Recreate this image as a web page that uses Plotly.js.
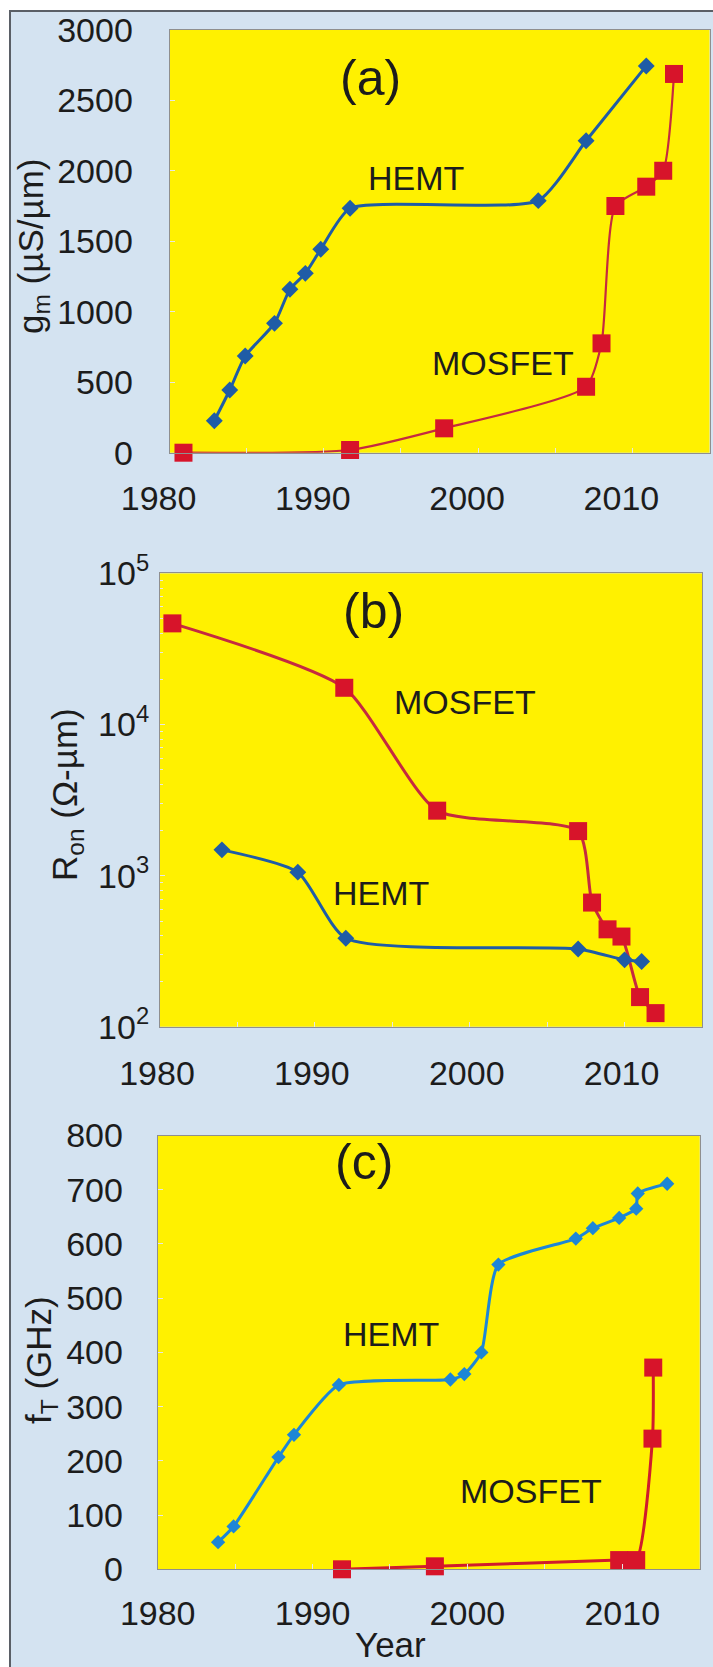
<!DOCTYPE html>
<html>
<head>
<meta charset="utf-8">
<script src="https://cdn.plot.ly/plotly-3.0.1.min.js"></script>
<style>
  html, body { margin: 0; padding: 0; background: #ffffff; }
  #frame { position: absolute; left: 9px; top: 10px; width: 720px; height: 1680px;
           background: #d4e3f1; border-left: 2px solid #5a5f66; border-top: 2px solid #5a5f66; }
  #chart { position: absolute; left: 0; top: 0; width: 713px; height: 1667px; }
</style>
</head>
<body>
<div id="frame"></div>
<div id="chart"></div>
<script>
// ---- Panel (a): transconductance gm (µS/µm) ----
const hemtA_year = [1982.9, 1983.9, 1984.9, 1986.8, 1987.8, 1988.8, 1989.8, 1991.7, 2003.9, 2007.0, 2010.9];
const hemtA_gm   = [227, 445, 686, 918, 1160, 1273, 1444, 1735, 1789, 2214, 2745];
const mosA_year  = [1980.9, 1991.7, 1997.8, 2007.0, 2008.0, 2008.9, 2010.9, 2012.0, 2012.7];
const mosA_gm    = [0, 19, 173, 468, 776, 1751, 1888, 2001, 2688];

// ---- Panel (b): on-resistance Ron (Ω-µm) ----
const mosB_year  = [1980.8, 1991.9, 1997.9, 2007.0, 2007.9, 2008.9, 2009.8, 2011.0, 2012.0];
const mosB_ron   = [46700, 17500, 2690, 1970, 663, 441, 395, 157, 123];
const hemtB_year = [1984.0, 1988.9, 1992.0, 2007.0, 2010.0, 2011.1];
const hemtB_ron  = [1480, 1054, 385, 327, 277, 270];

// ---- Panel (c): cutoff frequency fT (GHz) ----
const hemtC_year = [1983.9, 1984.9, 1987.8, 1988.8, 1991.7, 1998.9, 1999.8, 2000.9, 2002.0, 2007.0, 2008.1, 2009.8, 2010.9, 2011.0, 2012.9];
const hemtC_ft   = [50, 79, 207, 248, 340, 350, 360, 400, 562, 610, 629, 648, 665, 693, 711];
const mosC_year  = [1991.9, 1997.9, 2009.8, 2010.9, 2011.95, 2012.0];
const mosC_ft    = [0, 5.5, 17, 17, 241, 372];

// ---- tick labels ----
const yearTicks = [1980, 1985, 1990, 1995, 2000, 2005, 2010, 2015];
const yearText  = ['1980', '', '1990', '', '2000', '', '2010', ''];
const gmTicks   = [0, 500, 1000, 1500, 2000, 2500, 3000];
const ronTicks  = [100, 1000, 10000, 100000];
const ronText   = ['10<sup>2</sup>', '10<sup>3</sup>', '10<sup>4</sup>', '10<sup>5</sup>'];
const ftTicks   = [0, 100, 200, 300, 400, 500, 600, 700, 800];

const FONT = 'Liberation Sans, Arial, sans-serif';
const TXT = '#1c1c1c';
const BLUE_AB = '#1f5ca6';
const BLUE_C = '#1d86d6';
const RED_SQ = '#d7142a';
const RED_LN = '#c52a40';
const TICK = 34, LAB = 34, PANEL = 50, TITLE = 35;

const ronMinor = [];
[100, 1000, 10000].forEach(d => { for (let k = 2; k <= 9; k++) ronMinor.push(d * k); });

function line(x, y, xa, ya, color, lw, symbol, msize, mcolor, name, sm) {
  return {
    type: 'scatter', mode: 'lines+markers', x: x, y: y, xaxis: xa, yaxis: ya, name: name,
    line: { color: color, width: lw, shape: 'spline', smoothing: sm },
    marker: { symbol: symbol, size: msize, color: mcolor, line: { width: 0 } },
    showlegend: false, cliponaxis: false
  };
}

const data = [
  line(mosA_year, mosA_gm, 'x', 'y', RED_LN, 2.2, 'square', 18, RED_SQ, 'MOSFET', 0.6),
  line(hemtA_year, hemtA_gm, 'x', 'y', BLUE_AB, 3, 'diamond', 13, BLUE_AB, 'HEMT', 0.55),
  line(mosB_year, mosB_ron, 'x2', 'y2', RED_LN, 3, 'square', 18, RED_SQ, 'MOSFET', 0.6),
  line(hemtB_year, hemtB_ron, 'x2', 'y2', BLUE_AB, 3, 'diamond', 13, BLUE_AB, 'HEMT', 0.6),
  line(hemtC_year, hemtC_ft, 'x3', 'y3', BLUE_C, 3, 'diamond', 11, BLUE_C, 'HEMT', 0.55),
  line(mosC_year, mosC_ft, 'x3', 'y3', '#d01c2c', 3, 'square', 18, RED_SQ, 'MOSFET', 0.6)
];

const W = 713, H = 1667;
function dx(l, r) { return [l / W, r / W]; }
function dy(b, t) { return [1 - b / H, 1 - t / H]; }

function xAxis(anchor, domain, shift, standoff) {
  return {
    anchor: anchor, domain: domain, range: [1980, 2015],
    tickmode: 'array', tickvals: yearTicks, ticktext: yearText,
    ticks: 'inside', ticklen: 5, tickcolor: '#e6e6e6', tickwidth: 1,
    showline: true, mirror: true, linecolor: '#8f8f8f', linewidth: 1,
    showgrid: false, zeroline: false,
    tickfont: { family: FONT, size: TICK, color: TXT },
    ticklabelshift: shift, ticklabelstandoff: standoff, fixedrange: true
  };
}
function yBase(anchor, domain, standoff) {
  return {
    anchor: anchor, domain: domain,
    ticks: 'inside', ticklen: 5, tickcolor: '#e6e6e6', tickwidth: 1,
    showline: true, mirror: true, linecolor: '#8f8f8f', linewidth: 1,
    showgrid: false, zeroline: false,
    tickfont: { family: FONT, size: TICK, color: TXT },
    ticklabelstandoff: standoff, fixedrange: true
  };
}

function ann(xref, yref, x, y, text, size, extra) {
  return Object.assign({ xref: xref, yref: yref, x: x, y: y, text: text, showarrow: false,
    xanchor: 'center', yanchor: 'middle', font: { family: FONT, size: size, color: TXT } }, extra || {});
}

const layout = {
  width: W, height: H,
  margin: { l: 0, r: 0, t: 0, b: 0, pad: 0 },
  paper_bgcolor: 'rgba(0,0,0,0)',
  plot_bgcolor: '#fff100',
  showlegend: false,
  font: { family: FONT, color: TXT },
  xaxis: xAxis('y', dx(169.6, 709.5), -11, 15),
  yaxis: Object.assign(yBase('x', dy(452.7, 30), 29), {
    range: [0, 3000], tickmode: 'array', tickvals: gmTicks
  }),
  xaxis2: xAxis('y2', dx(160, 702), -3, 16),
  yaxis2: Object.assign(yBase('x2', dy(1026.7, 573.4), 3), {
    type: 'log', range: [2, 5], tickmode: 'array', tickvals: ronTicks, ticktext: ronText,
    minor: { tickmode: 'array', tickvals: ronMinor, ticks: 'inside', ticklen: 3, tickcolor: '#e6e6e6', showgrid: false }
  }),
  xaxis3: xAxis('y3', dx(157.7, 699.7), 0, 14),
  yaxis3: Object.assign(yBase('x3', dy(1569.3, 1135.5), 27), {
    range: [0, 800], tickmode: 'array', tickvals: ftTicks
  }),
  annotations: [
    ann('x', 'y', 1993.0, 2657, '(a)', PANEL),
    ann('x', 'y', 1996.0, 1950, 'HEMT', LAB),
    ann('x', 'y', 2001.6, 637, 'MOSFET', LAB),
    ann('x2', 'y2', 1993.8, 4.752, '(b)', PANEL),
    ann('x2', 'y2', 1999.7, 4.148, 'MOSFET', LAB),
    ann('x2', 'y2', 1994.3, 2.886, 'HEMT', LAB),
    ann('x3', 'y3', 1993.35, 752, '(c)', PANEL),
    ann('x3', 'y3', 1995.05, 434, 'HEMT', LAB),
    ann('x3', 'y3', 2004.1, 145, 'MOSFET', LAB),
    // axis titles
    ann('paper', 'paper', 33 / W, 1 - 247 / H, 'g<sub>m</sub> (µS/µm)', TITLE, { textangle: -90 }),
    ann('paper', 'paper', 67 / W, 1 - 795 / H, 'R<sub>on</sub> (Ω-µm)', TITLE, { textangle: -90 }),
    ann('paper', 'paper', 41 / W, 1 - 1360 / H, 'f<sub>T</sub> (GHz)', TITLE, { textangle: -90 }),
    ann('paper', 'paper', 391 / W, 1 - 1644 / H, 'Year', TITLE)
  ]
};

Plotly.newPlot('chart', data, layout, { staticPlot: true, displayModeBar: false });
</script>
</body>
</html>
